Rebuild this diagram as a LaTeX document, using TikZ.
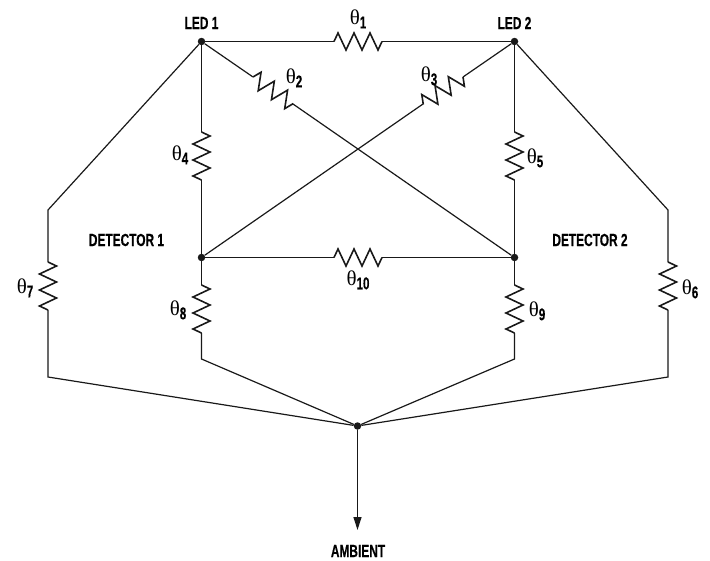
\documentclass[tikz,border=0pt]{standalone}
\usepackage{fontspec}
\setmainfont{Liberation Sans}
\newfontfamily\thetafont{Liberation Serif}
\newfontfamily\tagfont[FakeStretch=0.68, FakeBold=0.4]{Liberation Sans}
\usetikzlibrary{arrows.meta, decorations.pathmorphing}

\newcommand{\thetalabel}[1]{{\thetafont\fontsize{21}{21}\selectfont θ}\raisebox{-4pt}{\tagfont\bfseries\fontsize{17}{17}\selectfont #1}}

\begin{document}
\begin{tikzpicture}[
        x=1pt, y=-1pt,
        junction/.style={circle, fill=black!90, minimum size=7.5pt, inner sep=0pt},
        tag/.style={font=\tagfont\bfseries\fontsize{17.5}{17.5}\selectfont, inner sep=0pt},
        value/.style={inner sep=0pt},
        wire/.style={-, line width=1.2pt, black!90},
        resistor/.style={wire, line width=1.6pt, decorate, decoration={zigzag, amplitude=8.5pt, segment length=16pt}}
    ]
        \useasboundingbox (0,0) rectangle (710,560);

        % Junctions
        \node[junction] (led1) at (201.5,41.5) {};
        \node[junction] (led2) at (514.5,41.5) {};
        \node[junction] (det1) at (201.5,257.5) {};
        \node[junction] (det2) at (514.5,257.5) {};
        \node[junction] (amb) at (357.5,426) {};

        % Corners of the outer wires
        \coordinate (c7top) at (48,210);
        \coordinate (c7bot) at (48,377);
        \coordinate (c6top) at (668,210);
        \coordinate (c6bot) at (668,377);
        \coordinate (c8bot) at (201.5,359);
        \coordinate (c9bot) at (514.5,359);
        \coordinate (out) at (357.5,530);

        % Resistor ends
        \coordinate (r1a) at (334,41.5);   \coordinate (r1b) at (382,41.5);
        \coordinate (r2a) at (253,77);   \coordinate (r2b) at (293,104);
        \coordinate (r3a) at (463,77);   \coordinate (r3b) at (423,104);
        \coordinate (r4a) at (201.5,132); \coordinate (r4b) at (201.5,180);
        \coordinate (r5a) at (514.5,132); \coordinate (r5b) at (514.5,180);
        \coordinate (r6a) at (668,262);  \coordinate (r6b) at (668,310);
        \coordinate (r7a) at (48,262);   \coordinate (r7b) at (48,310);
        \coordinate (r8a) at (201.5,285); \coordinate (r8b) at (201.5,333);
        \coordinate (r9a) at (514.5,285); \coordinate (r9b) at (514.5,333);
        \coordinate (r10a) at (334,257.5); \coordinate (r10b) at (382,257.5);

        % Wires
        \draw[wire] (led1) -- (r1a);
        \draw[resistor] (r1a) -- (r1b);
        \draw[wire] (r1b) -- (led2);

        \draw[wire] (led1) -- (r2a);
        \draw[resistor] (r2a) -- (r2b);
        \draw[wire] (r2b) -- (det2);

        \draw[wire] (led2) -- (r3a);
        \draw[resistor] (r3a) -- (r3b);
        \draw[wire] (r3b) -- (det1);

        \draw[wire] (led1) -- (r4a);
        \draw[resistor] (r4a) -- (r4b);
        \draw[wire] (r4b) -- (det1);

        \draw[wire] (led2) -- (r5a);
        \draw[resistor] (r5a) -- (r5b);
        \draw[wire] (r5b) -- (det2);

        \draw[wire] (led2) -- (c6top) -- (r6a);
        \draw[resistor] (r6a) -- (r6b);
        \draw[wire] (r6b) -- (c6bot) -- (amb);

        \draw[wire] (led1) -- (c7top) -- (r7a);
        \draw[resistor] (r7a) -- (r7b);
        \draw[wire] (r7b) -- (c7bot) -- (amb);

        \draw[wire] (det1) -- (r8a);
        \draw[resistor] (r8a) -- (r8b);
        \draw[wire] (r8b) -- (c8bot) -- (amb);

        \draw[wire] (det2) -- (r9a);
        \draw[resistor] (r9a) -- (r9b);
        \draw[wire] (r9b) -- (c9bot) -- (amb);

        \draw[wire] (det1) -- (r10a);
        \draw[resistor] (r10a) -- (r10b);
        \draw[wire] (r10b) -- (det2);

        \draw[wire, -{Triangle[length=13pt, width=8pt]}] (amb) -- (out);

        % Labels
        \node[tag] (ledlabel1) at (201.5,23) {LED 1};
        \node[tag] (ledlabel2) at (514.5,23) {LED 2};
        \node[tag] (detlabel1) at (126.5,240) {DETECTOR 1};
        \node[tag] (detlabel2) at (590,240) {DETECTOR 2};
        \node[tag] (amblabel) at (358,551) {AMBIENT};

        \node[value] (t1) at (358,19) {\thetalabel{1}};
        \node[value] (t2) at (294,78) {\thetalabel{2}};
        \node[value] (t3) at (429,76) {\thetalabel{3}};
        \node[value] (t4) at (180,155) {\thetalabel{4}};
        \node[value] (t5) at (535,158) {\thetalabel{5}};
        \node[value] (t6) at (690,289) {\thetalabel{6}};
        \node[value] (t7) at (25,288) {\thetalabel{7}};
        \node[value] (t8) at (178,310) {\thetalabel{8}};
        \node[value] (t9) at (537,311) {\thetalabel{9}};
        \node[value] (t10) at (358,280) {\thetalabel{10}};
    \end{tikzpicture}
\end{document}
